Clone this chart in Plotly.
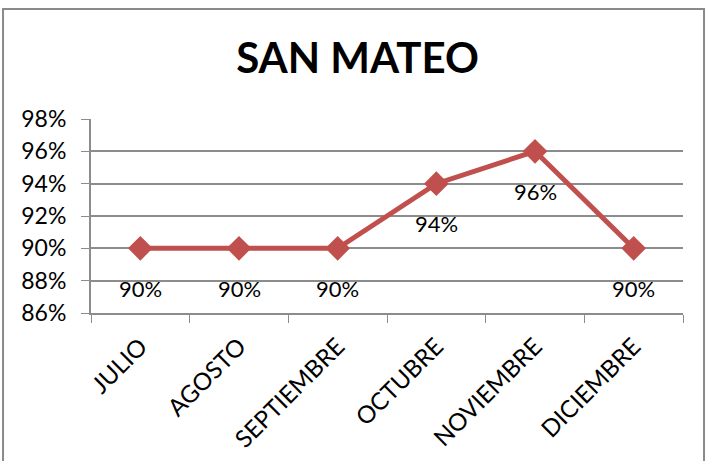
import plotly.graph_objects as go

MONTHS = ["JULIO", "AGOSTO", "SEPTIEMBRE", "OCTUBRE", "NOVIEMBRE", "DICIEMBRE"]
VALUES = [0.90, 0.90, 0.90, 0.94, 0.96, 0.90]
LABELS = ["90%", "90%", "90%", "94%", "96%", "90%"]

LINE = "#C0504D"
GRID = "#8c8c8c"
FONT = "Lato, Open Sans, sans-serif"

fig = go.Figure()
fig.add_trace(
    go.Scatter(
        x=MONTHS,
        y=VALUES,
        mode="lines+markers",
        line=dict(color=LINE, width=5),
        marker=dict(symbol="diamond", size=19, color=LINE),
        showlegend=False,
    )
)

for m, v, t in zip(MONTHS, VALUES, LABELS):
    fig.add_annotation(x=m, y=v, text=t, showarrow=False, yshift=-40,
                       font=dict(size=22, color="black", family=FONT))

# outer frame of the chart area
fig.add_shape(type="rect", xref="paper", yref="paper",
              x0=-0.1486, x1=1.0355, y0=-0.8, y1=1.567,
              line=dict(color="#8a8a8a", width=2), fillcolor="rgba(0,0,0,0)")

fig.update_layout(
    width=708,
    height=461,
    paper_bgcolor="white",
    plot_bgcolor="white",
    margin=dict(l=91, r=25, t=119, b=148),
    font=dict(family=FONT, color="black", size=22),
    title=dict(text="<b>SAN MATEO</b>", x=0.505, xanchor="center", y=0.874, yanchor="middle",
               font=dict(size=42, family=FONT, color="black")),
    xaxis=dict(
        range=[-0.5, 5.5],
        tickangle=-45,
        tickson="boundaries",
        ticks="outside",
        ticklen=8,
        tickcolor=GRID,
        showline=True,
        linecolor=GRID,
        linewidth=2,
        showgrid=False,
        automargin=False,
        ticklabelstandoff=8,
        tickfont=dict(size=24),
    ),
    yaxis=dict(
        range=[0.86, 0.98],
        dtick=0.02,
        tickformat=".0%",
        ticks="outside",
        ticklen=8,
        tickcolor=GRID,
        showline=True,
        linecolor=GRID,
        linewidth=2,
        gridcolor=GRID,
        gridwidth=1.5,
        zeroline=False,
        automargin=False,
        ticklabelstandoff=10,
        tickfont=dict(size=23),
    ),
)

fig.write_html("out.html", config={"displayModeBar": False},
               post_script="document.body.style.margin='0';")
